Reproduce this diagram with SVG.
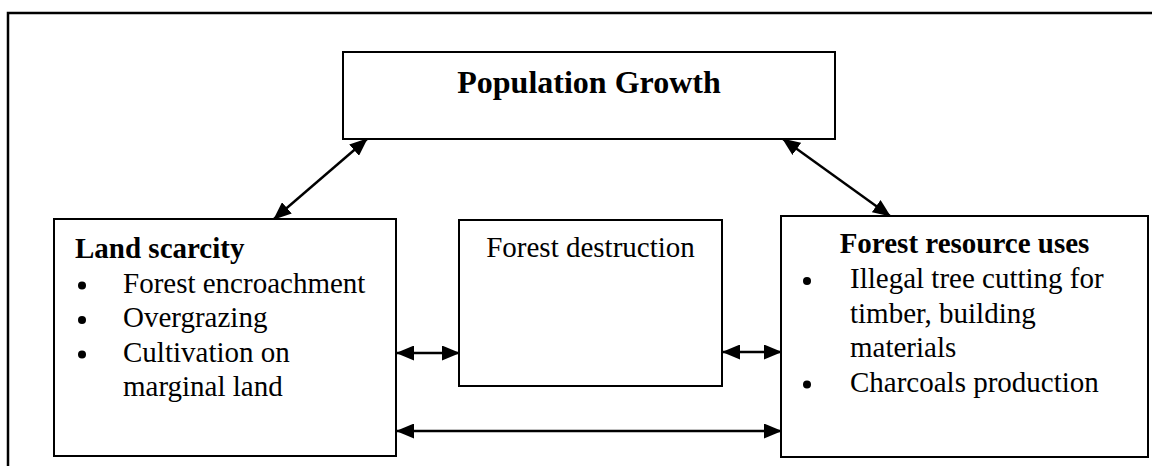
<svg xmlns="http://www.w3.org/2000/svg" width="1152" height="466" viewBox="0 0 1152 466">
<style>
.box{fill:#fff;stroke:#000;stroke-width:2}
.frame{fill:none;stroke:#000;stroke-width:2.5}
.t{font-family:"Liberation Serif","Times New Roman",serif;font-size:29px;fill:#000}
.b{font-weight:bold}
.title{font-size:32px}
.dot{fill:#000}
.conn{stroke:#000;stroke-width:2.4;fill:none;marker-start:url(#ah);marker-end:url(#ah)}
</style>
<defs>
<marker id="ah" markerUnits="userSpaceOnUse" markerWidth="18" markerHeight="15" refX="17" refY="7.5" orient="auto-start-reverse" viewBox="0 0 18 15">
<path d="M0,0 L18,7.5 L0,15 Z" fill="#000"/>
</marker>
</defs>
<path class="frame" d="M8,466 L8,13 L1152,13"/>
<g id="population-growth">
<rect class="box" x="343" y="52" width="492" height="87"/>
<text class="t b title" x="589" y="93" text-anchor="middle">Population Growth</text>
</g>
<g id="land-scarcity">
<rect class="box" x="54" y="219" width="342" height="237"/>
<text class="t b" x="75" y="258">Land scarcity</text>
<circle class="dot" cx="82" cy="285.5" r="4"/>
<text class="t" x="123" y="292.5">Forest encroachment</text>
<circle class="dot" cx="82" cy="320" r="4"/>
<text class="t" x="123" y="327">Overgrazing</text>
<circle class="dot" cx="82" cy="354.5" r="4"/>
<text class="t" x="123" y="361.5">Cultivation on</text>
<text class="t" x="123" y="396">marginal land</text>
</g>
<g id="forest-destruction">
<rect class="box" x="459" y="220" width="263" height="166"/>
<text class="t" x="590.5" y="257" text-anchor="middle">Forest destruction</text>
</g>
<g id="forest-resource-uses">
<rect class="box" x="781" y="216" width="367" height="241"/>
<text class="t b" x="964.5" y="253" text-anchor="middle">Forest resource uses</text>
<circle class="dot" cx="807" cy="281" r="4"/>
<text class="t" x="850" y="288">Illegal tree cutting for</text>
<text class="t" x="850" y="322.5">timber, building</text>
<text class="t" x="850" y="357">materials</text>
<circle class="dot" cx="807" cy="384.5" r="4"/>
<text class="t" x="850" y="391.5">Charcoals production</text>
</g>
<g id="connectors">
<line class="conn" x1="274" y1="219" x2="367" y2="139"/>
<line class="conn" x1="783" y1="139" x2="890" y2="216"/>
<line class="conn" x1="397" y1="353" x2="459" y2="353"/>
<line class="conn" x1="723" y1="352" x2="781" y2="352"/>
<line class="conn" x1="397" y1="431" x2="781" y2="431"/>
</g>
</svg>
